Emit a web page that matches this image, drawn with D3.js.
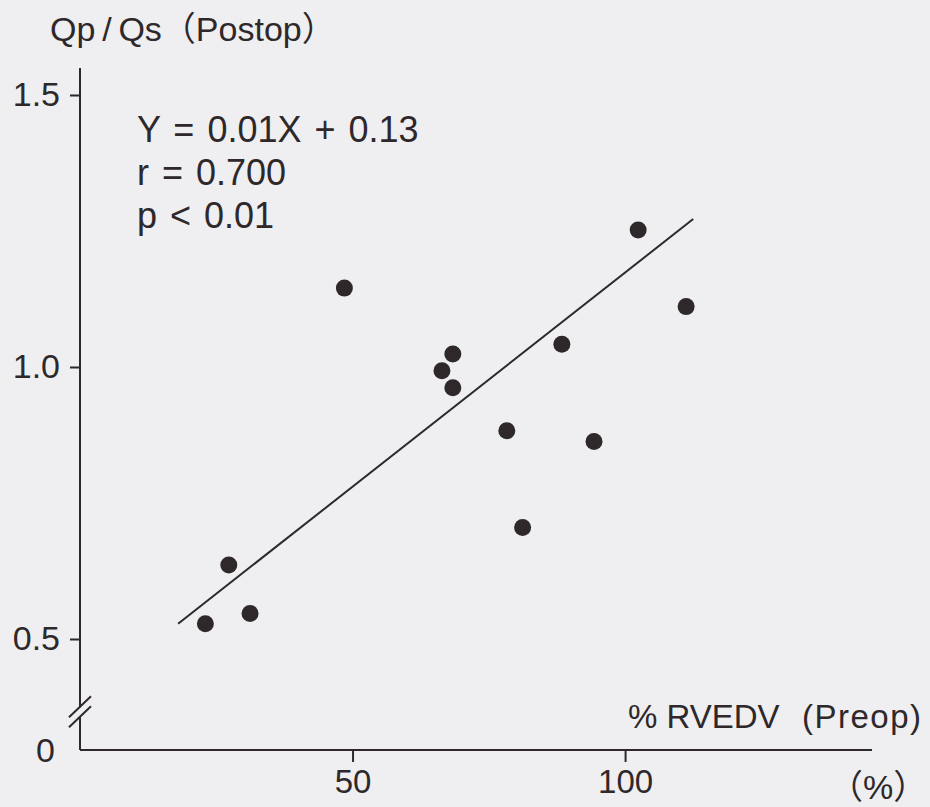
<!DOCTYPE html>
<html>
  <head>
    <title>Qp/Qs vs %RVEDV</title>
    <script src="https://d3js.org/d3.v7.min.js"></script>
    <style>
      html, body { margin: 0; padding: 0; background: #efeff1; }
      svg { display: block; }
      text { font-family: "Liberation Sans", "Noto Sans CJK JP", sans-serif; fill: #2e282b; }
    </style>
  </head>

  <body>
    <svg width="930" height="807"></svg>

    <script>
    // data
    const rvedv  = [23.0, 27.3, 31.2, 48.5, 66.4, 68.4, 68.4, 78.3, 81.2, 88.4, 94.3, 102.4, 111.2];
    const qpqs   = [0.528, 0.636, 0.547, 1.145, 0.993, 1.024, 0.962, 0.883, 0.705, 1.042, 0.863, 1.252, 1.111];
    const fitX   = [18, 112.5];
    const fitY   = [0.528, 1.272];
    const xTicks = [50, 100];
    const yTicks = [0.5, 1.0, 1.5];
    const statLines = ['Y = 0.01X + 0.13', 'r = 0.700', 'p < 0.01'];

    const ink = '#2e282b';
    const svg = d3.select('svg');

    const x = d3.scaleLinear().domain([0, 145.3]).range([80, 872]);
    // broken axis: 0..0.5 squeezed into the gap at the bottom
    const y = d3.scaleLinear().domain([0, 0.5, 1.5]).range([750, 639, 95]);
    const yTop = 68;
    const breakAt = 0.17;

    // x axis
    const xAxis = svg.append('g')
        .attr('transform', `translate(0,${y(0)})`)
        .call(d3.axisBottom(x).tickValues(xTicks).tickSize(12).tickPadding(8).tickFormat(d3.format('d')));
    xAxis.select('.domain').attr('d', `M${x(0)},0H${x(145.3)}`);
    xAxis.selectAll('path, line').attr('stroke', ink).attr('stroke-width', 2);
    xAxis.selectAll('text').attr('font-size', 33).attr('fill', ink)
        .attr('font-family', '"Liberation Sans", sans-serif');

    // y axis (with break)
    const yb = y(breakAt);
    const yAxis = svg.append('g')
        .attr('transform', `translate(${x(0)},0)`)
        .call(d3.axisLeft(y).tickValues(yTicks).tickSize(10).tickPadding(10).tickFormat(d3.format('.1f')));
    yAxis.select('.domain').attr('d', `M0,${yTop}V${yb - 5}M0,${yb + 5}V${y(0)}`);
    yAxis.selectAll('path, line').attr('stroke', ink).attr('stroke-width', 2);
    yAxis.selectAll('text').attr('font-size', 34).attr('fill', ink)
        .attr('font-family', '"Liberation Sans", sans-serif');

    yAxis.append('text')
        .attr('x', -25).attr('y', y(0)).attr('dy', '0.35em')
        .attr('text-anchor', 'end').attr('font-size', 34)
        .attr('font-family', '"Liberation Sans", sans-serif')
        .text('0');

    // break marks
    [-5, 5].forEach(off => {
      yAxis.append('line')
        .attr('x1', -11).attr('y1', yb + off + 10)
        .attr('x2', 11).attr('y2', yb + off - 11)
        .attr('stroke', ink).attr('stroke-width', 2);
    });

    // regression line
    svg.append('line')
        .attr('x1', x(fitX[0])).attr('y1', y(fitY[0]))
        .attr('x2', x(fitX[1])).attr('y2', y(fitY[1]))
        .attr('stroke', ink).attr('stroke-width', 2);

    // points
    svg.selectAll('circle.pt').data(rvedv)
      .enter()
      .append('circle')
        .attr('class', 'pt')
        .attr('cx', d => x(d))
        .attr('cy', (d, i) => y(qpqs[i]))
        .attr('r', 8.5)
        .attr('fill', ink);

    // stats
    svg.append('g').selectAll('text').data(statLines)
      .enter()
      .append('text')
        .attr('x', 137)
        .attr('y', (d, i) => 142 + i * 43)
        .attr('font-size', 36)
        .attr('word-spacing', 3)
        .attr('font-family', '"Liberation Sans", sans-serif')
        .text(d => d);

    // axis titles
    svg.append('text')
        .attr('x', 50).attr('y', 41)
        .attr('font-size', 34)
        .text('Qp\u2009/\u2009Qs（Postop）');

    const xl = svg.append('text')
        .attr('y', 728)
        .attr('font-size', 33)
        .attr('font-family', '"Liberation Sans", sans-serif');
    xl.append('tspan').attr('x', 628).text('% RVEDV');
    xl.append('tspan').attr('x', 802).attr('letter-spacing', 1.5).text('(Preop)');

    svg.append('text')
        .attr('x', 829).attr('y', 799)
        .attr('font-size', 34)
        .text('（%）');
    </script>
  </body>
</html>
